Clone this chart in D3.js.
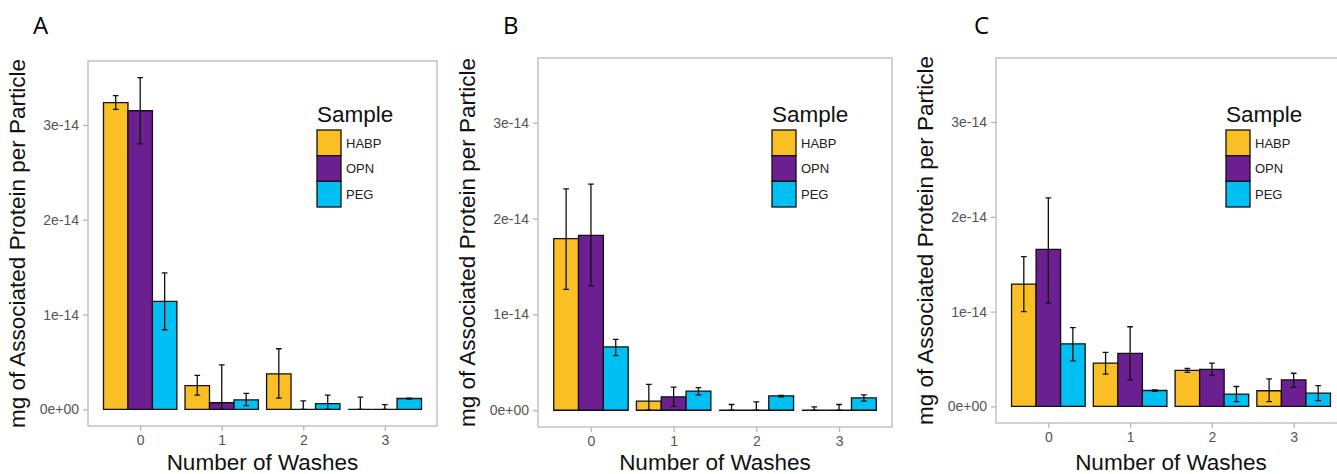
<!DOCTYPE html>
<html>
<head>
<meta charset="utf-8">
<script src="https://cdn.jsdelivr.net/npm/d3@7"></script>
<style>
  body { margin: 0; background: #fff; }
  svg { display: block; font-family: "Liberation Sans", Arial, sans-serif; }
</style>
</head>
<body>
<svg id="chart" width="1337" height="474"></svg>
<script>
// categories
const washes = [0, 1, 2, 3];
const samples = ["HABP", "OPN", "PEG"];
const yTicks = [0, 1e-14, 2e-14, 3e-14];
const yTickLabels = ["0e+00", "1e-14", "2e-14", "3e-14"];
const panelLetters = ["A", "B", "C"];

// values in units of 1e-14 mg
// panel A
const aHABP = [3.235, 0.25, 0.375, 0];
const aHABPlo = [3.165, 0.15, 0.12, 0];
const aHABPhi = [3.31, 0.36, 0.64, 0.13];
const aOPN = [3.15, 0.07, 0, 0];
const aOPNlo = [2.80, 0, 0, 0];
const aOPNhi = [3.50, 0.47, 0.09, 0.05];
const aPEG = [1.14, 0.10, 0.06, 0.115];
const aPEGlo = [0.84, 0.04, 0, 0.11];
const aPEGhi = [1.44, 0.17, 0.15, 0.12];
// panel B
const bHABP = [1.79, 0.094, 0, 0];
const bHABPlo = [1.26, 0, 0, 0];
const bHABPhi = [2.31, 0.27, 0.06, 0.035];
const bOPN = [1.825, 0.14, 0, 0];
const bOPNlo = [1.30, 0.04, 0, 0];
const bOPNhi = [2.36, 0.24, 0.087, 0.06];
const bPEG = [0.66, 0.20, 0.15, 0.128];
const bPEGlo = [0.57, 0.16, 0.14, 0.094];
const bPEGhi = [0.74, 0.235, 0.155, 0.16];
// panel C
const cHABP = [1.29, 0.457, 0.38, 0.165];
const cHABPlo = [1.00, 0.34, 0.36, 0.05];
const cHABPhi = [1.58, 0.57, 0.40, 0.29];
const cOPN = [1.656, 0.56, 0.39, 0.28];
const cOPNlo = [1.09, 0.28, 0.33, 0.20];
const cOPNhi = [2.20, 0.84, 0.456, 0.35];
const cPEG = [0.66, 0.168, 0.13, 0.14];
const cPEGlo = [0.48, 0.16, 0.05, 0.06];
const cPEGhi = [0.83, 0.175, 0.21, 0.22];

const fill = { HABP: "#fbbf26", OPN: "#6b1f91", PEG: "#00bff3" };
const unit = 1e-14;

function rows(mean, lo, hi) {
  return washes.map((w, i) => ({ w, v: mean[i] * unit, lo: lo[i] * unit, hi: hi[i] * unit }));
}

const panels = [
  { letter: panelLetters[0], box: [88, 61, 437, 426], letterX: 33,
    series: { HABP: rows(aHABP, aHABPlo, aHABPhi), OPN: rows(aOPN, aOPNlo, aOPNhi), PEG: rows(aPEG, aPEGlo, aPEGhi) } },
  { letter: panelLetters[1], box: [538, 58, 892, 427], letterX: 503,
    series: { HABP: rows(bHABP, bHABPlo, bHABPhi), OPN: rows(bOPN, bOPNlo, bOPNhi), PEG: rows(bPEG, bPEGlo, bPEGhi) } },
  { letter: panelLetters[2], box: [996, 58, 1346, 423], letterX: 974,
    series: { HABP: rows(cHABP, cHABPlo, cHABPhi), OPN: rows(cOPN, cOPNlo, cOPNhi), PEG: rows(cPEG, cPEGlo, cPEGhi) } }
];

const svg = d3.select("#chart");
const grey = "#b8b8b8";

panels.forEach(p => {
  const [x0, y0, x1, y1] = p.box;
  const x = d3.scaleLinear([-0.64, 3.64], [x0, x1]);
  const y = d3.scaleLinear([-0.175e-14, 3.675e-14], [y1, y0]);
  const dodge = d3.scaleBand(samples, [-0.45, 0.45]);
  const g = svg.append("g");

  g.append("text")
    .attr("x", p.letterX).attr("y", 34)
    .attr("font-family", "'Open Sans', sans-serif")
    .attr("font-size", 24)
    .text(p.letter);

  g.append("rect")
    .attr("x", x0).attr("y", y0)
    .attr("width", x1 - x0).attr("height", y1 - y0)
    .attr("fill", "#fff").attr("stroke", grey).attr("stroke-width", 1.3);

  // y axis
  const ya = g.append("g")
    .attr("transform", `translate(${x0},0)`)
    .call(d3.axisLeft(y).tickValues(yTicks).tickFormat((d, i) => yTickLabels[i]).tickSize(5).tickPadding(4));
  ya.select(".domain").remove();
  ya.selectAll(".tick line").attr("stroke", grey).attr("stroke-width", 1.3);
  ya.selectAll(".tick text").attr("fill", "#555").attr("font-size", 14)
    .attr("font-family", "'Liberation Sans', Arial, sans-serif");

  // x axis
  const xa = g.append("g")
    .attr("transform", `translate(0,${y1})`)
    .call(d3.axisBottom(x).tickValues(washes).tickFormat(d3.format("d")).tickSize(5).tickPadding(4));
  xa.select(".domain").remove();
  xa.selectAll(".tick line").attr("stroke", grey).attr("stroke-width", 1.3);
  xa.selectAll(".tick text").attr("fill", "#555").attr("font-size", 14)
    .attr("font-family", "'Liberation Sans', Arial, sans-serif");

  // bars
  const clip = "clip" + p.letter;
  g.append("clipPath").attr("id", clip)
    .append("rect").attr("x", x0).attr("y", y0).attr("width", x1 - x0).attr("height", y1 - y0);
  const plot = g.append("g").attr("clip-path", `url(#${clip})`);

  samples.forEach(s => {
    plot.append("g").selectAll("path")
      .data(p.series[s])
      .join("path")
      .attr("d", d => {
        const l = x(d.w + dodge(s)), r = x(d.w + dodge(s) + dodge.bandwidth());
        return `M${l},${y(0)}H${r}V${y(d.v)}H${l}Z`;
      })
      .attr("fill", fill[s])
      .attr("stroke", "#111")
      .attr("stroke-width", 1.3);
  });

  samples.forEach(s => {
    const eb = plot.append("g").attr("stroke", "#111").attr("stroke-width", 1.3).attr("fill", "none");
    eb.selectAll("path")
      .data(p.series[s])
      .join("path")
      .attr("d", d => {
        const c = d.w + dodge(s) + dodge.bandwidth() / 2;
        const cl = x(c - 0.035), cr = x(c + 0.035), cx = x(c);
        return `M${cl},${y(d.hi)}H${cr}M${cx},${y(d.hi)}V${y(d.lo)}M${cl},${y(d.lo)}H${cr}`;
      });
  });

  // axis titles
  g.append("text")
    .attr("transform", `translate(${x0 - 63},${(y0 + y1) / 2}) rotate(-90)`)
    .attr("text-anchor", "middle")
    .attr("font-size", 22.5)
    .attr("fill", "#111")
    .text("mg of Associated Protein per Particle");

  g.append("text")
    .attr("x", (x0 + x1) / 2).attr("y", 470)
    .attr("text-anchor", "middle")
    .attr("font-size", 22.5)
    .attr("fill", "#111")
    .text("Number of Washes");

  // legend
  const lx = x1 - 120;
  const leg = g.append("g");
  leg.append("text")
    .attr("x", lx).attr("y", 122)
    .attr("font-size", 22.5).attr("fill", "#111")
    .text("Sample");
  const key = d3.scaleBand(samples, [130, 207]);
  leg.selectAll("rect")
    .data(samples)
    .join("rect")
    .attr("x", lx).attr("y", d => key(d))
    .attr("width", 24).attr("height", key.bandwidth())
    .attr("fill", d => fill[d])
    .attr("stroke", "#111").attr("stroke-width", 1.3);
  leg.selectAll("text.lab")
    .data(samples)
    .join("text")
    .attr("class", "lab")
    .attr("x", lx + 29).attr("y", d => key(d) + key.bandwidth() / 2)
    .attr("dy", "0.36em")
    .attr("font-size", 13).attr("fill", "#222")
    .text(d => d);
});
</script>
</body>
</html>
